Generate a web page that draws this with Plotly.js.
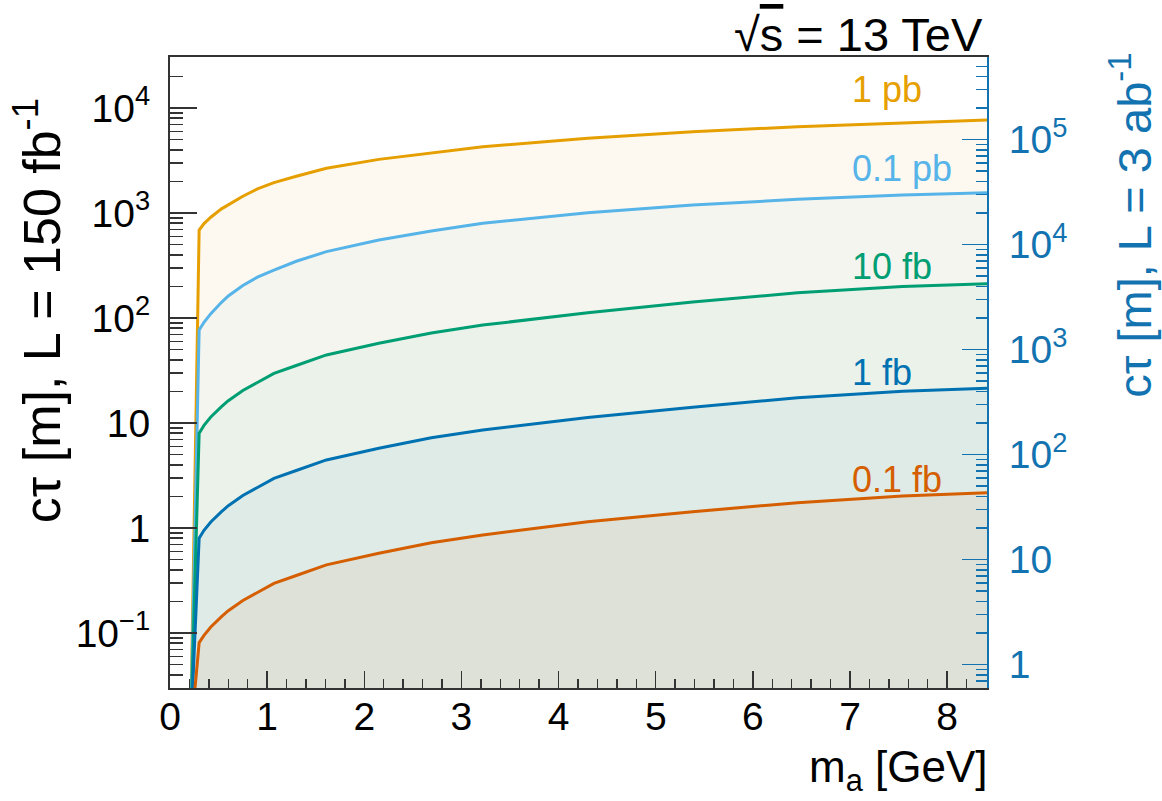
<!DOCTYPE html>
<html>
<head>
<meta charset="utf-8">
<script src="https://cdn.plot.ly/plotly-3.0.1.min.js"></script>
<style>html,body{margin:0;padding:0;background:#fff;}#chart{width:1162px;height:801px;}</style>
</head>
<body>
<div id="chart"></div>
<script>
// ---- data ----
const massGeV = [0.211, 0.30, 0.35, 0.42, 0.53, 0.60, 0.75, 0.90, 1.07, 1.30, 1.61, 2.15, 2.69, 3.22, 4.30, 5.38, 6.46, 7.54, 8.41];
const ct_1pb  = [0.01, 689, 794, 912, 1096, 1202, 1445, 1698, 1950, 2239, 2667, 3243, 3750, 4285, 5140, 5943, 6637, 7244, 7691];
const ct_01pb = [0.01, 77, 91, 110, 141, 162, 204, 245, 286, 347, 429, 553, 675, 798, 1007, 1191, 1349, 1483, 1560];
const ct_10fb = [0.01, 8.0, 9.5, 11.4, 14.3, 16.3, 20.4, 24.5, 29.7, 35.3, 44.5, 57.4, 72.0, 85.7, 112, 142, 174, 200, 212];
const ct_1fb  = [0.01, 0.80, 0.95, 1.14, 1.43, 1.63, 2.04, 2.45, 2.97, 3.53, 4.45, 5.74, 7.24, 8.57, 11.3, 14.1, 17.4, 20.1, 21.4];
const ct_01fb = [0.01, 0.081, 0.095, 0.114, 0.143, 0.163, 0.204, 0.245, 0.297, 0.353, 0.445, 0.574, 0.724, 0.857, 1.148, 1.429, 1.742, 2.018, 2.168];
const seriesLabels = ['1 pb', '0.1 pb', '10 fb', '1 fb', '0.1 fb'];
const lumiRatio = 20; // 3 ab^-1 / 150 fb^-1
const leftTickVals = [0.1, 1, 10, 100, 1000, 10000];
const leftTickText = ['10<sup>\u22121</sup>', '1', '10', '10<sup>2</sup>', '10<sup>3</sup>', '10<sup>4</sup>'];
const rightTickVals = [1, 10, 100, 1000, 10000, 100000];
const rightTickText = ['1', '10', '10<sup>2</sup>', '10<sup>3</sup>', '10<sup>4</sup>', '10<sup>5</sup>'];
const xTickVals = [0, 1, 2, 3, 4, 5, 6, 7, 8];

// ---- styling ----
const colors = ['#E69F00', '#56B4E9', '#009E73', '#0072B2', '#D55E00'];
const fillAlpha = [0.06, 0.06, 0.035, 0.05, 0.065];
const FONT = 'Liberation Sans, Arial, Helvetica, sans-serif';
const AXBLUE = '#1273B0';
const AXDARK = '#333333';

function rgba(hex, a) {
  const r = parseInt(hex.slice(1, 3), 16), g = parseInt(hex.slice(3, 5), 16), b = parseInt(hex.slice(5, 7), 16);
  return 'rgba(' + r + ',' + g + ',' + b + ',' + a + ')';
}

const allSeries = [ct_1pb, ct_01pb, ct_10fb, ct_1fb, ct_01fb];
const traces = allSeries.map((ys, i) => ({
  x: massGeV, y: ys, type: 'scatter', mode: 'lines',
  line: {color: colors[i], width: 3},
  fill: 'tozeroy', fillcolor: rgba(colors[i], fillAlpha[i]),
  name: seriesLabels[i], hoverinfo: 'skip', showlegend: false
}));
// same top curve expressed in right-axis units (invisible, anchors the right axis)
traces.push({
  x: massGeV, y: ct_1pb.map(v => v * lumiRatio), yaxis: 'y2', type: 'scatter', mode: 'lines',
  line: {width: 0, color: 'rgba(0,0,0,0)'}, hoverinfo: 'skip', showlegend: false
});

const yLogMin = -1.524, yLogMax = 4.486;
const labelOffsets = [0.29, 0.23, 0.16, 0.15, 0.13];
const annotations = allSeries.map((ys, i) => ({
  x: 7.0, xref: 'x', y: Math.log10(ys[ys.length - 1]) + labelOffsets[i], yref: 'y',
  text: seriesLabels[i], showarrow: false, xanchor: 'left', yanchor: 'middle',
  font: {family: FONT, size: 36, color: colors[i]}
}));
annotations.push(
  {xref: 'paper', yref: 'paper', x: -0.162, y: 0.598, textangle: -90, showarrow: false,
   xanchor: 'center', yanchor: 'middle',
   text: 'c\u03c4 [m], L = 150 fb<sup>-1</sup>', font: {family: FONT, size: 52, color: '#000'}},
  {xref: 'paper', yref: 'paper', x: 1.176, y: 0.734, textangle: -90, showarrow: false,
   xanchor: 'center', yanchor: 'middle',
   text: 'c\u03c4 [m], L = 3 ab<sup>-1</sup>', font: {family: FONT, size: 47, color: AXBLUE}},
  {xref: 'paper', yref: 'paper', x: 1.004, y: -0.13, showarrow: false,
   xanchor: 'right', yanchor: 'middle',
   text: 'm<sub>a</sub> [GeV]', font: {family: FONT, size: 44, color: '#000'}},
  {xref: 'paper', yref: 'paper', x: 0.998, y: 1.035, showarrow: false,
   xanchor: 'right', yanchor: 'middle',
   text: '\u221a<span style="text-decoration:overline">s</span> = 13 TeV', font: {family: FONT, size: 47, color: '#000'}}
);

const layout = {
  width: 1162, height: 801,
  margin: {l: 170, r: 175, t: 57, b: 113},
  paper_bgcolor: '#fff', plot_bgcolor: '#fff',
  showlegend: false,
  font: {family: FONT, color: '#000'},
  xaxis: {
    range: [0, 8.41], showgrid: false, zeroline: false,
    showline: true, linecolor: AXDARK, linewidth: 2, mirror: true,
    tickmode: 'array', tickvals: xTickVals, ticks: 'inside', ticklen: 17, tickwidth: 1.5, tickcolor: AXDARK,
    tickfont: {family: FONT, size: 39, color: '#000'}, ticklabelstandoff: -7,
    minor: {tickmode: 'linear', tick0: 0, dtick: 0.2, ticks: 'inside', ticklen: 9, tickwidth: 1.5, tickcolor: AXDARK}
  },
  yaxis: {
    type: 'log', range: [yLogMin, yLogMax], showgrid: false, zeroline: false,
    showline: true, linecolor: AXDARK, linewidth: 2,
    tickmode: 'array', tickvals: leftTickVals, ticktext: leftTickText,
    ticks: 'inside', ticklen: 27, tickwidth: 1.5, tickcolor: AXDARK,
    tickfont: {family: FONT, size: 39, color: '#000'}, ticklabelstandoff: 10,
    minor: {dtick: 'D1', ticks: 'inside', ticklen: 13, tickwidth: 1.5, tickcolor: AXDARK}
  },
  yaxis2: {
    type: 'log', overlaying: 'y', side: 'right',
    range: [yLogMin + Math.log10(lumiRatio), yLogMax + Math.log10(lumiRatio)],
    showgrid: false, zeroline: false,
    showline: true, linecolor: AXBLUE, linewidth: 2,
    tickmode: 'array', tickvals: rightTickVals, ticktext: rightTickText,
    ticks: 'inside', ticklen: 25, tickwidth: 1.5, tickcolor: AXBLUE,
    tickfont: {family: FONT, size: 39, color: AXBLUE}, ticklabelstandoff: 12,
    minor: {dtick: 'D1', ticks: 'inside', ticklen: 11, tickwidth: 1.5, tickcolor: AXBLUE}
  },
  annotations: annotations
};

Plotly.newPlot('chart', traces, layout, {staticPlot: true, displayModeBar: false});
</script>
</body>
</html>
